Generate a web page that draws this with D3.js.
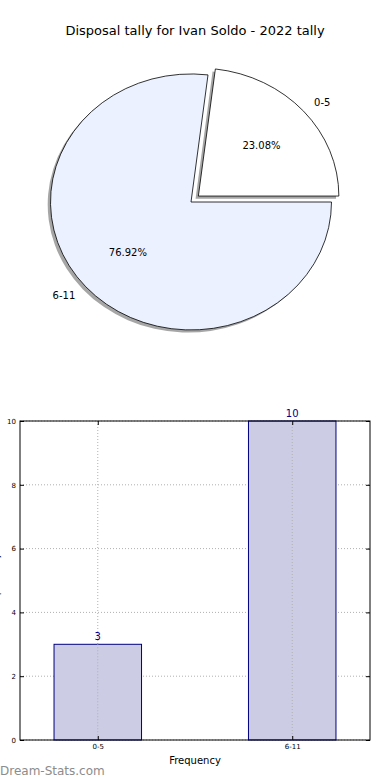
<!DOCTYPE html>
<html>
<head>
<meta charset="utf-8">
<script src="https://cdn.jsdelivr.net/npm/d3@7"></script>
<style>
  body { margin: 0; background: #fff; }
  svg { display: block; font-family: "DejaVu Sans", sans-serif; }
</style>
</head>
<body>
<svg id="chart" width="390" height="780"></svg>
<script>
// Данные
const title = "Disposal tally for Ivan Soldo - 2022 tally";
const categories = ["0-5", "6-11"];
const counts = [3, 10];
const sliceColors = ["#ffffff", "#ebf1fe"];
const explode = [0.07, 0];
const yTicks = [0, 2, 4, 6, 8, 10];
const xLabel = "Frequency";
const yLabel = "Disposal Tally";

const svg = d3.select("#chart");

// --- Заголовок ---
svg.append("text")
    .attr("x", 195).attr("y", 35)
    .attr("text-anchor", "middle")
    .style("font-size", "13px")
    .text(title);

// --- Круговая диаграмма (эллипс) ---
const cx = 191, cy = 202, rx = 140.5, ry = 128;
const total = d3.sum(counts);

const pie = d3.pie().sort(null)
    .startAngle(Math.PI / 2)
    .endAngle(Math.PI / 2 - 2 * Math.PI);
const arcs = pie(counts);
const arcGen = d3.arc().innerRadius(0).outerRadius(1);

const pieG = svg.append("g");

arcs.forEach((a, i) => {
    const mid = (a.startAngle + a.endAngle) / 2;
    const ox = explode[i] * rx * Math.sin(mid);
    const oy = -explode[i] * ry * Math.cos(mid);
    // тень
    pieG.append("path")
        .attr("d", arcGen(a))
        .attr("transform", `translate(${cx + ox - 2.8},${cy + oy + 2.6}) scale(${rx},${ry})`)
        .attr("fill", "#4d4d4d")
        .attr("opacity", 0.5);
});

arcs.forEach((a, i) => {
    const mid = (a.startAngle + a.endAngle) / 2;
    const ox = explode[i] * rx * Math.sin(mid);
    const oy = -explode[i] * ry * Math.cos(mid);
    const px = cx + ox, py = cy + oy;
    pieG.append("path")
        .attr("d", arcGen(a))
        .attr("transform", `translate(${px},${py}) scale(${rx},${ry})`)
        .attr("fill", sliceColors[i])
        .attr("stroke", "#000")
        .attr("stroke-width", 0.8)
        .attr("vector-effect", "non-scaling-stroke");

    // подпись категории
    const lx = px + 1.1 * rx * Math.sin(mid);
    const ly = py - 1.1 * ry * Math.cos(mid);
    pieG.append("text")
        .attr("x", lx).attr("y", ly)
        .attr("dy", "0.35em")
        .attr("text-anchor", Math.sin(mid) >= 0 ? "start" : "end")
        .style("font-size", "10px")
        .text(categories[i]);

    // проценты
    const tx = px + 0.6 * rx * Math.sin(mid);
    const ty = py - 0.6 * ry * Math.cos(mid);
    pieG.append("text")
        .attr("x", tx).attr("y", ty)
        .attr("dy", "0.35em")
        .attr("text-anchor", "middle")
        .style("font-size", "10px")
        .text((counts[i] / total * 100).toFixed(2) + "%");
});

// --- Столбчатая диаграмма ---
const pLeft = 20, pRight = 370, pTop = 421, pBottom = 740;
const x = d3.scaleLinear().domain([-0.4, 1.4]).range([pLeft, pRight]);
const y = d3.scaleLinear().domain([0, 10]).range([pBottom, pTop]);
const barW = 0.45;

const barG = svg.append("g");

// сетка
barG.selectAll(".hgrid").data(yTicks).enter().append("line")
    .attr("x1", pLeft).attr("x2", pRight)
    .attr("y1", d => y(d)).attr("y2", d => y(d))
    .attr("stroke", "#b0b0b0").attr("stroke-width", 1)
    .attr("stroke-dasharray", "1,2");
barG.selectAll(".vgrid").data(categories).enter().append("line")
    .attr("x1", (d, i) => x(i)).attr("x2", (d, i) => x(i))
    .attr("y1", pTop).attr("y2", pBottom)
    .attr("stroke", "#b0b0b0").attr("stroke-width", 1)
    .attr("stroke-dasharray", "1,2");

// столбцы
barG.selectAll(".bar").data(counts).enter().append("rect")
    .attr("x", (d, i) => x(i - barW / 2))
    .attr("width", (d, i) => x(i + barW / 2) - x(i - barW / 2))
    .attr("y", d => y(d))
    .attr("height", d => pBottom - y(d))
    .attr("fill", "#cccce5")
    .attr("stroke", "#000080")
    .attr("stroke-width", 1);

// сетка поверх столбцов (как в оригинале)
barG.selectAll(".vgrid2").data(counts).enter().append("line")
    .attr("x1", (d, i) => x(i)).attr("x2", (d, i) => x(i))
    .attr("y1", d => y(d)).attr("y2", pBottom)
    .attr("stroke", "#b0b0b0").attr("stroke-width", 1)
    .attr("stroke-dasharray", "1,2");

// значения над столбцами
barG.selectAll(".val").data(counts).enter().append("text")
    .attr("x", (d, i) => x(i))
    .attr("y", d => y(d) - 4)
    .attr("text-anchor", "middle")
    .attr("fill", "#00008b")
    .style("font-size", "10px")
    .text(d => d);

// рамка
barG.append("rect")
    .attr("x", pLeft).attr("y", pTop)
    .attr("width", pRight - pLeft).attr("height", pBottom - pTop)
    .attr("fill", "none").attr("stroke", "#000").attr("stroke-width", 1);

// ось Y
const yAxisL = d3.axisLeft(y).tickValues(yTicks).tickSize(-4).tickPadding(4);
barG.append("g").attr("transform", `translate(${pLeft},0)`).call(yAxisL)
    .call(g => g.select(".domain").remove())
    .call(g => g.selectAll("text").style("font-size", "7px").style("font-family", "DejaVu Sans"));
const yAxisR = d3.axisRight(y).tickValues(yTicks).tickSize(-4).tickFormat("");
barG.append("g").attr("transform", `translate(${pRight},0)`).call(yAxisR)
    .call(g => g.select(".domain").remove());

// ось X
const xAxisB = d3.axisBottom(x).tickValues([0, 1]).tickSize(-4).tickPadding(4)
    .tickFormat(d => categories[d]);
barG.append("g").attr("transform", `translate(0,${pBottom})`).call(xAxisB)
    .call(g => g.select(".domain").remove())
    .call(g => g.selectAll("text").style("font-size", "7px").style("font-family", "DejaVu Sans"));
const xAxisT = d3.axisTop(x).tickValues([0, 1]).tickSize(-4).tickFormat("");
barG.append("g").attr("transform", `translate(0,${pTop})`).call(xAxisT)
    .call(g => g.select(".domain").remove());

barG.selectAll(".tick line").attr("stroke", "#000");

// подписи осей
svg.append("text")
    .attr("x", (pLeft + pRight) / 2).attr("y", 764)
    .attr("text-anchor", "middle")
    .style("font-size", "10px")
    .text(xLabel);
// подпись оси Y в оригинале обрезана краем
svg.append("text")
    .attr("transform", `translate(-1,${(pTop + pBottom) / 2}) rotate(-90)`)
    .attr("text-anchor", "middle")
    .style("font-size", "8px")
    .text(yLabel);

// водяной знак
svg.append("text")
    .attr("x", 0).attr("y", 775)
    .attr("fill", "#8c8c8c")
    .style("font-size", "12px")
    .text("Dream-Stats.com");
</script>
</body>
</html>
